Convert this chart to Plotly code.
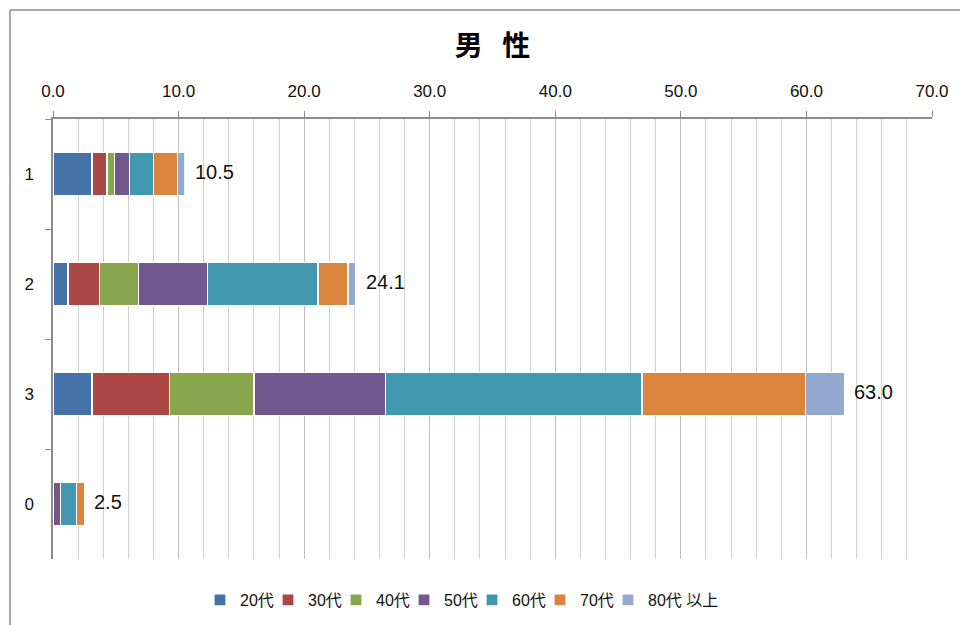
import plotly.graph_objects as go

categories = ["1", "2", "3", "0"]
series_names = ["20代", "30代", "40代", "50代", "60代", "70代", "80代 以上"]
values_20 = [3.1, 1.2, 3.1, 0.0]
values_30 = [1.2, 2.5, 6.2, 0.0]
values_40 = [0.6, 3.1, 6.7, 0.0]
values_50 = [1.2, 5.5, 10.5, 0.6]
values_60 = [1.9, 8.8, 20.4, 1.3]
values_70 = [1.9, 2.4, 13.0, 0.6]
values_80 = [0.6, 0.6, 3.1, 0.0]
totals = [10.5, 24.1, 63.0, 2.5]
x_tick_values = [0, 10, 20, 30, 40, 50, 60, 70]
x_tick_labels = ["0.0", "10.0", "20.0", "30.0", "40.0", "50.0", "60.0", "70.0"]

colors = ["#4572A7", "#AA4643", "#89A54E", "#71588F", "#4198AF", "#DB843D", "#93A9CF"]
all_values = [values_20, values_30, values_40, values_50, values_60, values_70, values_80]

FONT = "Liberation Sans, Noto Sans CJK JP, sans-serif"

# page body has an 8px margin; figure sized so plot lands at the reference pixels
W, H = 960, 617
ML, MR, MT, MB = 45, 36, 111, 66
PW, PH = W - ML - MR, H - MT - MB
PB = H - MB

fig = go.Figure()
for name, vals, col in zip(series_names, all_values, colors):
    fig.add_trace(go.Bar(
        y=categories, x=vals, name=name, orientation="h",
        marker=dict(color=col, line=dict(color="white", width=1.2)),
        hoverinfo="x+name",
    ))
# spacer entry so the last (long) legend label is not clipped
fig.add_trace(go.Bar(y=[categories[0]], x=[0], name=" ", orientation="h",
                     marker=dict(color="rgba(0,0,0,0)"), hoverinfo="skip",
                     showlegend=True))

for i, tot in enumerate(totals):
    fig.add_annotation(
        x=tot, y=i, xref="x", yref="y", text=f"{tot:.1f}",
        showarrow=False, xanchor="left", yanchor="middle", xshift=8, yshift=2,
        font=dict(size=20, color="#111", family=FONT),
    )

fig.update_layout(
    width=W, height=H,
    barmode="stack",
    bargap=0.61,
    paper_bgcolor="white",
    plot_bgcolor="white",
    margin=dict(l=ML, r=MR, t=MT, b=MB, autoexpand=False),
    title=dict(text="<b>男\u2002\u2009性</b>", x=0.5, xref="paper", xanchor="center",
               y=1 - 38 / H, yanchor="middle",
               font=dict(size=28, color="black", family="Noto Sans CJK JP, sans-serif")),
    showlegend=True,
    legend=dict(orientation="h", x=(192 - ML) / PW, xanchor="left", xref="paper",
                y=(PB - 592) / PH, yanchor="middle",
                font=dict(size=16, color="#111", family=FONT),
                itemwidth=30, traceorder="normal",
                entrywidth=23, entrywidthmode="pixels"),
    font=dict(family=FONT, color="#111"),
)

fig.update_xaxes(
    range=[0, 70], side="top", automargin=False,
    tickvals=x_tick_values, ticktext=x_tick_labels,
    showgrid=True, gridcolor="#bdbdbd", gridwidth=1,
    minor=dict(dtick=2, showgrid=True, gridcolor="#d0d0d0", gridwidth=1),
    showline=True, linecolor="#8c8c8c", linewidth=1.5,
    ticks="outside", ticklen=6, tickcolor="#8c8c8c",
    ticklabelstandoff=7,
    tickfont=dict(size=17, color="#111", family=FONT),
    zeroline=False, fixedrange=True,
)
fig.update_yaxes(
    type="category", categoryorder="array", categoryarray=categories,
    autorange="reversed", automargin=False,
    showgrid=False,
    showline=True, linecolor="#8c8c8c", linewidth=1.5,
    ticks="outside", ticklen=6, tickcolor="#8c8c8c", tickson="boundaries",
    ticklabelstandoff=14,
    tickfont=dict(size=17, color="#111", family=FONT),
    fixedrange=True,
)

# chart frame (left and top edges visible in reference)
fx = (2 - ML) / PW
fy = (PB - 2) / PH
fig.add_shape(type="line", xref="paper", yref="paper",
              x0=fx, x1=1.2, y0=fy, y1=fy,
              line=dict(color="#8c8c8c", width=1.5))
fig.add_shape(type="line", xref="paper", yref="paper",
              x0=fx, x1=fx, y0=fy, y1=-0.4,
              line=dict(color="#8c8c8c", width=1.5))

fig.write_html("out.html")
